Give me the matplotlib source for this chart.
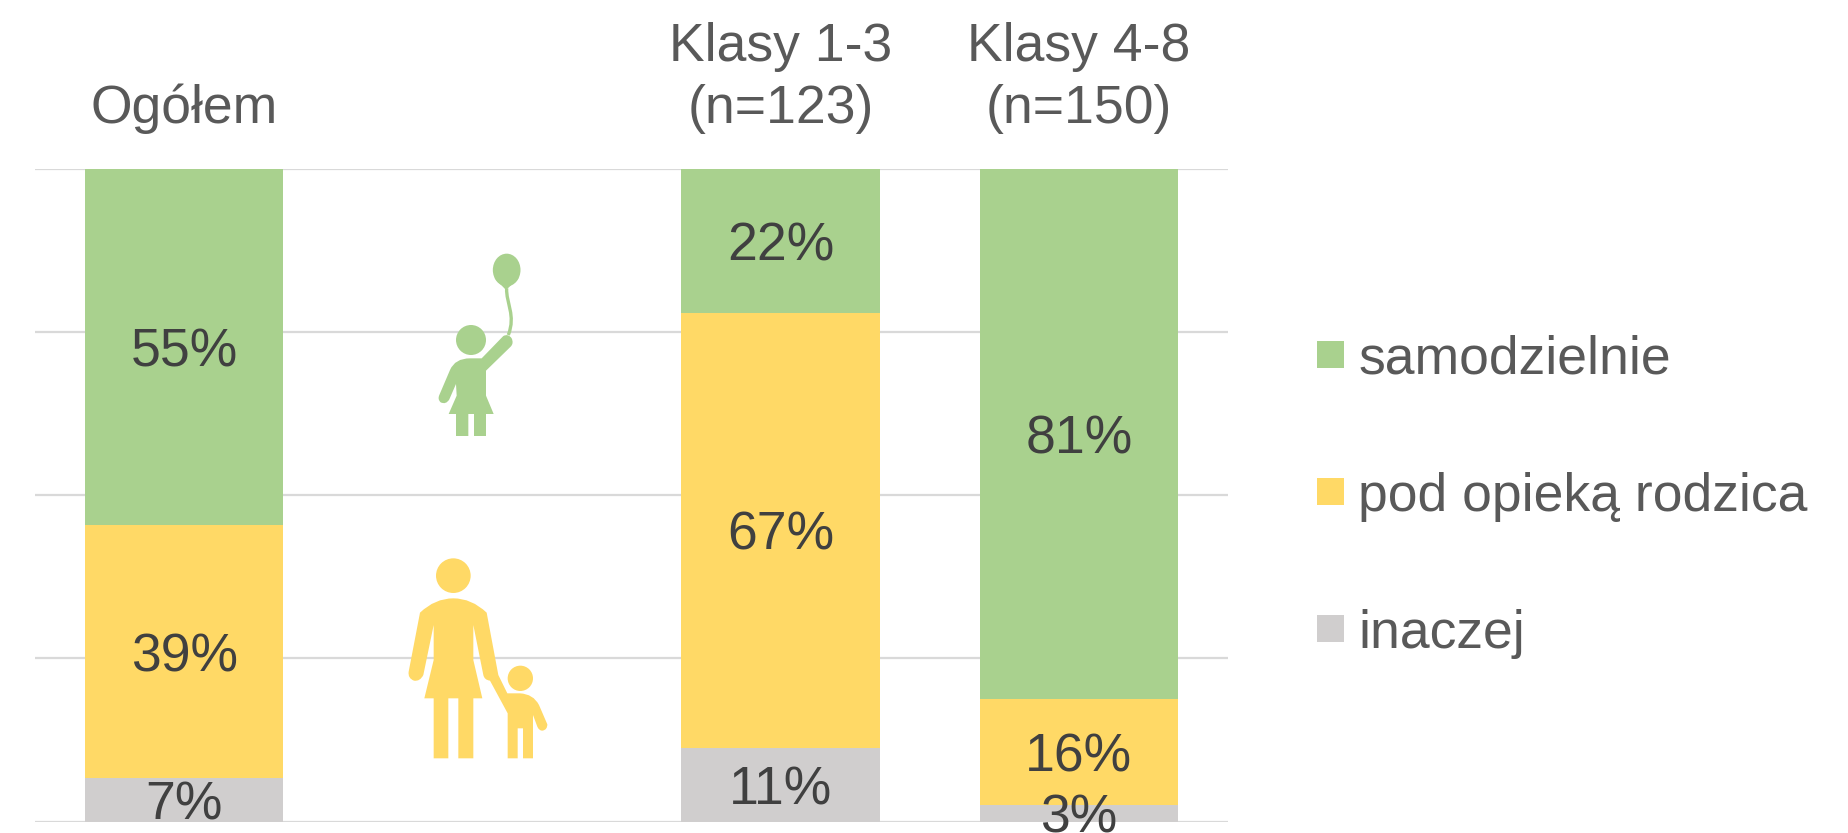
import matplotlib
matplotlib.use("Agg")
import matplotlib.pyplot as plt
import numpy as np
from matplotlib.patches import Circle, Ellipse, PathPatch
from matplotlib.path import Path

plt.rcParams['font.family'] = ['Liberation Sans', 'DejaVu Sans']

categories = ['Ogółem', '', 'Klasy 1-3\n(n=123)', 'Klasy 4-8\n(n=150)']
series_names = ['samodzielnie', 'pod opieką rodzica', 'inaczej']
inaczej = [6.6, 0, 11.3, 2.6]
rodzic = [38.8, 0, 66.7, 16.1]
samodzielnie = [54.6, 0, 22.0, 81.3]

GREEN, YELLOW, GRAY = '#A9D18E', '#FFD966', '#D0CECE'
W, H = 1849, 833
FS = 38.5

fig = plt.figure(figsize=(W / 100, H / 100), dpi=100)
ax = fig.add_axes([35 / W, 1 - 821.5 / H, (1228 - 35) / W, (821.5 - 169) / H])

x = np.arange(len(categories))
bottom = np.zeros(len(categories))
conts = []
for vals, col in zip([inaczej, rodzic, samodzielnie], [GRAY, YELLOW, GREEN]):
    vals = np.array(vals, dtype=float)
    c = ax.bar(x, vals, 0.665, bottom=bottom, color=col, zorder=3, linewidth=0)
    ax.bar_label(c, labels=[f'{v:.0f}%' if v else '' for v in vals], label_type='center',
                 fontsize=FS, color='#404040', zorder=5, clip_on=False, padding=-4)
    conts.append(c)
    bottom += vals

ax.set_xlim(-0.5, 3.5)
ax.set_ylim(0, 100)
ax.set_yticks([0, 25, 50, 75, 100])
ax.set_yticklabels([])
ax.grid(axis='y', color='#D9D9D9', lw=1.6, zorder=0)
ax.set_axisbelow(True)
ax.tick_params(axis='both', length=0)
ax.xaxis.tick_top()
ax.set_xticks(x)
ax.set_xticklabels(categories, fontsize=FS, color='#595959', linespacing=1.31)
ax.tick_params(axis='x', pad=25)
for s in ax.spines.values():
    s.set_visible(False)

leg = ax.legend([conts[2], conts[1], conts[0]], series_names,
                loc='center left', bbox_to_anchor=(1317.5 / W, 1 - 496.5 / H),
                bbox_transform=fig.transFigure, frameon=False, fontsize=FS,
                labelcolor='#595959', handlelength=0.5, handleheight=0.4,
                handletextpad=0.26, labelspacing=1.63, borderpad=0, borderaxespad=0)

# Pictograms, drawn in pixel space on an overlay
ov = fig.add_axes([0, 0, 1, 1], facecolor='none')
ov.set_xlim(0, W)
ov.set_ylim(H, 0)
ov.axis('off')
ov.set_zorder(ax.get_zorder() + 1)


def poly(points, ox, oy, col):
    """points: list of (x, y) or ('q', cx, cy, x, y) in 3x zoom pixels."""
    verts, codes = [], []
    for i, p in enumerate(points):
        if p[0] == 'q':
            verts += [(ox + p[1] / 3, oy + p[2] / 3), (ox + p[3] / 3, oy + p[4] / 3)]
            codes += [Path.CURVE3, Path.CURVE3]
        else:
            verts.append((ox + p[0] / 3, oy + p[1] / 3))
            codes.append(Path.MOVETO if i == 0 else Path.LINETO)
    verts.append(verts[0])
    codes.append(Path.CLOSEPOLY)
    ov.add_patch(PathPatch(Path(verts, codes), fc=col, ec='none'))


def circ(cx, cy, r, ox, oy, col):
    ov.add_patch(Circle((ox + cx / 3, oy + cy / 3), r / 3, fc=col, ec='none'))


# child with balloon
ox, oy = 400, 240
circ(213, 300, 45, ox, oy, GREEN)
poly([(118, 465), (150, 390), ('q', 165, 355, 210, 355), (245, 355), (310, 288),
      ('q', 325, 280, 335, 295), ('q', 342, 310, 332, 320), (258, 392), (258, 467),
      (281, 522), (258, 522), (258, 588), (222, 588), (222, 522), (205, 522), (205, 588),
      (168, 588), (168, 522), (146, 522), (170, 467), (168, 432), (148, 478),
      ('q', 138, 495, 122, 487), ('q', 112, 478, 118, 465)], ox, oy, GREEN)
# balloon
ov.add_patch(Ellipse((ox + 320 / 3, oy + 90 / 3), 83 / 3, 98 / 3, fc=GREEN, ec='none'))
poly([(284, 115), (318, 150), (356, 115)], ox, oy, GREEN)
sv = [(ox + a / 3, oy + b / 3) for a, b in [(320, 145), (318, 190), (348, 225), (325, 285)]]
ov.add_patch(PathPatch(Path(sv, [Path.MOVETO, Path.CURVE4, Path.CURVE4, Path.CURVE4]),
                       fc='none', ec=GREEN, lw=2.4))

# parent with child
ox, oy = 390, 540
circ(190, 107, 52, ox, oy, YELLOW)
poly([(90, 218), ('q', 135, 175, 190, 175), ('q', 245, 175, 290, 218), (325, 405),
      (352, 460), (390, 460), ('q', 430, 462, 447, 495), (472, 553),
      ('q', 472, 570, 457, 572), ('q', 447, 572, 442, 560), (429, 525), (429, 655),
      (399, 655), (399, 565), (383, 565), (383, 655), (353, 655), (353, 520), (300, 422),
      ('q', 283, 420, 280, 405), (250, 255), (250, 360), (277, 475), (250, 475), (250, 655),
      (205, 655), (205, 475), (175, 475), (175, 655), (131, 655), (131, 475), (103, 475),
      (131, 360), (131, 255), (100, 405), ('q', 90, 425, 72, 422), ('q', 53, 415, 56, 395)],
     ox, oy, YELLOW)
circ(391, 415, 38, ox, oy, YELLOW)

fig.savefig('out.png', dpi=100, facecolor='white')
